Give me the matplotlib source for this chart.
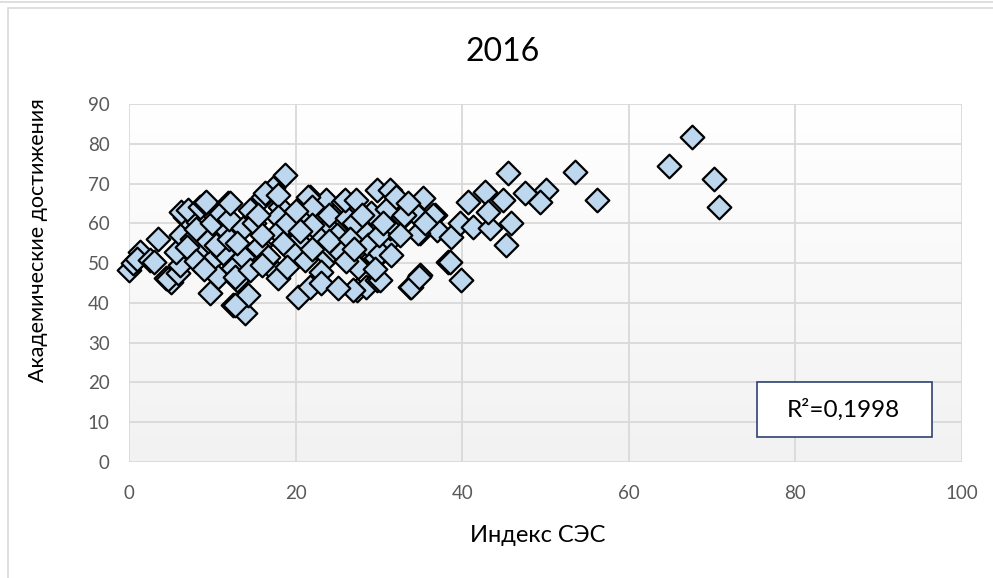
import numpy as np
import matplotlib
matplotlib.use("Agg")
import matplotlib.pyplot as plt
from matplotlib.patches import Rectangle
from matplotlib.lines import Line2D

plt.rcParams['font.family'] = ['Lato', 'DejaVu Sans']

# ---- data ----
ses_index = [
    0, 0.5, 1.3, 1, 2.5, 3.5, 3, 4.4, 5, 4.7, 5.9, 6.1, 5.6, 6.2, 6.7, 6.2, 7.1, 8.3, 8.5, 9.1,
    9.3, 8.9, 10.7, 10.3, 10.7, 9.7, 11.9, 11.7, 11.3, 12.5, 12.5, 13.9, 13, 7.6, 8, 9.5, 10, 11,
    7, 8, 9, 10.5, 12, 12,
    14.1, 14.7, 16.1, 15.7, 17.8, 18.4, 18.1, 17.3, 18.7, 16.3, 17.9, 21.7, 23.6, 14.5, 17.9, 21.2,
    23.9, 17.9, 15.5, 13.7, 20.3, 22.7, 13.7, 16.7, 21.1, 23.9, 12.7, 14.5, 17.9, 23, 14.3, 12.7,
    20.3, 21.7, 23, 12.1, 21.5, 22, 24.5, 15, 16, 19, 19.5, 20, 22, 24, 25, 19, 16, 22, 18.5, 15.5,
    20.5, 24, 13,
    25.7, 26.2, 27.4, 28.5, 28.5, 29.8, 29.8, 29.3, 31, 31.3, 25.9, 27.3, 35.3, 28.1, 32.5, 34.4,
    36.7, 34.9, 28.7, 29.7, 25.4, 38.3, 34.9, 33.7, 26.9, 25.1, 31.3, 30.1, 30.1, 33.9, 34.8, 37,
    34.6, 36.5, 34.7, 27, 29, 30, 31, 32, 33, 26.5, 27.5, 28, 30.5, 32.5, 33.5, 26, 31.5, 27, 29.5,
    35.5,
    38.6, 38.5, 39.8, 39.7, 41.3, 43.3, 45.8, 45.3, 40.7, 42.7, 44.9, 47.5, 50, 49.3, 43.1, 45.5,
    53.6, 56.2, 64.8, 67.6, 70.2, 70.8,
]
achievement = [
    48.2, 50, 52.8, 51, 50.8, 56, 50.3, 46.2, 45.3, 46, 47.5, 49.5, 52.8, 57, 61.6, 62.8, 63.3, 60.3, 64, 65,
    65.3, 53.3, 57.5, 51.5, 46.5, 42.4, 65, 58.3, 52.5, 48.7, 39.4, 37.4, 45.7, 56, 58.5, 55.5, 60, 62.5,
    54, 50.5, 48.5, 54.5, 56, 61,
    51.5, 63.3, 66.6, 54.5, 47.5, 58.3, 64, 69, 72.1, 67.6, 67.1, 66.6, 65.8, 63.3, 61.6, 62.6,
    59, 57.8, 54, 58.8, 55.8, 56.5, 51.5, 51.5, 50.8, 51.5, 46.5, 48.2, 46.2, 47.7, 42, 39.4,
    41.5, 44, 45, 65, 66.6, 64, 53.3, 60, 57, 60, 53, 63, 59.5, 62, 57, 49, 49.5, 53.5, 55, 62,
    58, 55.5, 55,
    65.3, 61.3, 43.2, 44, 55, 68.3, 45.7, 51.5, 55, 68.3, 65.8, 65.8, 66.3, 58.3, 60.8, 62.6,
    62, 57.5, 54.5, 51.3, 52.5, 50.3, 47, 44, 43.2, 43.7, 58.8, 45.7, 52.5, 44, 46.5, 58.3,
    62, 62, 57.5, 60, 62.5, 57, 63.5, 66.5, 62, 56, 49, 62, 60, 57, 65, 50.5, 52, 53.5, 48.5,
    60,
    56.5, 50.3, 45.7, 60, 59, 58.8, 60, 54.5, 65.3, 67.8, 65.8, 67.6, 68.3, 65.3, 62.8, 72.6,
    72.9, 65.8, 74.4, 81.7, 71.1, 64,
]
title = "2016"
x_label = "Индекс СЭС"
y_label = "Академические достижения"
r2_text = "R²=0,1998"
x_ticks = [0, 20, 40, 60, 80, 100]
y_ticks = [0, 10, 20, 30, 40, 50, 60, 70, 80, 90]

W, H = 993, 578
fig = plt.figure(figsize=(W / 100, H / 100), dpi=100)
fig.patch.set_facecolor('white')

# outer chart frame
fig.add_artist(Line2D([0, 1], [1 - 2 / H, 1 - 2 / H], transform=fig.transFigure,
                      color='#d9d9d9', lw=1.2))
fig.add_artist(Rectangle((8 / W, -0.05), 1.2, 1 - 8 / H + 0.05, transform=fig.transFigure,
                         fill=False, edgecolor='#d9d9d9', lw=1.2))

left, right = 129 / W, 962 / W
bottom, top = 1 - 462 / H, 1 - 104 / H
ax = fig.add_axes([left, bottom, right - left, top - bottom])

# gradient background
grad = np.linspace(0, 1, 256).reshape(-1, 1)
cmap = matplotlib.colors.LinearSegmentedColormap.from_list('g', ['#f2f2f2', '#ffffff'])
ax.imshow(grad, extent=[0, 1, 0, 1], transform=ax.transAxes, aspect='auto',
          cmap=cmap, origin='lower', zorder=0)

ax.set_xlim(0, 100)
ax.set_ylim(0, 90)
ax.set_xticks(x_ticks)
ax.set_yticks(y_ticks)
ax.grid(True, color='#d9d9d9', lw=1.3, zorder=1)
ax.set_axisbelow(True)
for s in ax.spines.values():
    s.set_visible(False)
ax.tick_params(length=0, labelsize=13.5, labelcolor='#595959')
ax.tick_params(axis='y', pad=14)
ax.tick_params(axis='x', pad=16.5)

ax.scatter(ses_index, achievement, marker='D', s=145, facecolor='#bdd7ee',
           edgecolor='black', linewidths=1.6, zorder=3, clip_on=False)

fig.text(503 / W, 1 - 52 / H, title, ha='center', va='center', fontsize=23, color='black')
fig.text(538 / W, 1 - 535 / H, x_label, ha='center', va='center', fontsize=17, color='black')
fig.text(38 / W, 1 - 240 / H, y_label, ha='center', va='center', rotation=90,
         fontsize=15.5, color='black')

# R² box
fig.add_artist(Rectangle((757 / W, 1 - 437 / H), 175 / W, 55 / H, transform=fig.transFigure,
                         facecolor='white', edgecolor='#2f4270', lw=1.2, zorder=5))
fig.text(843 / W, 1 - 410 / H, r2_text, ha='center', va='center', fontsize=17.5,
         color='black', zorder=6)

fig.savefig('out.png', dpi=100)
